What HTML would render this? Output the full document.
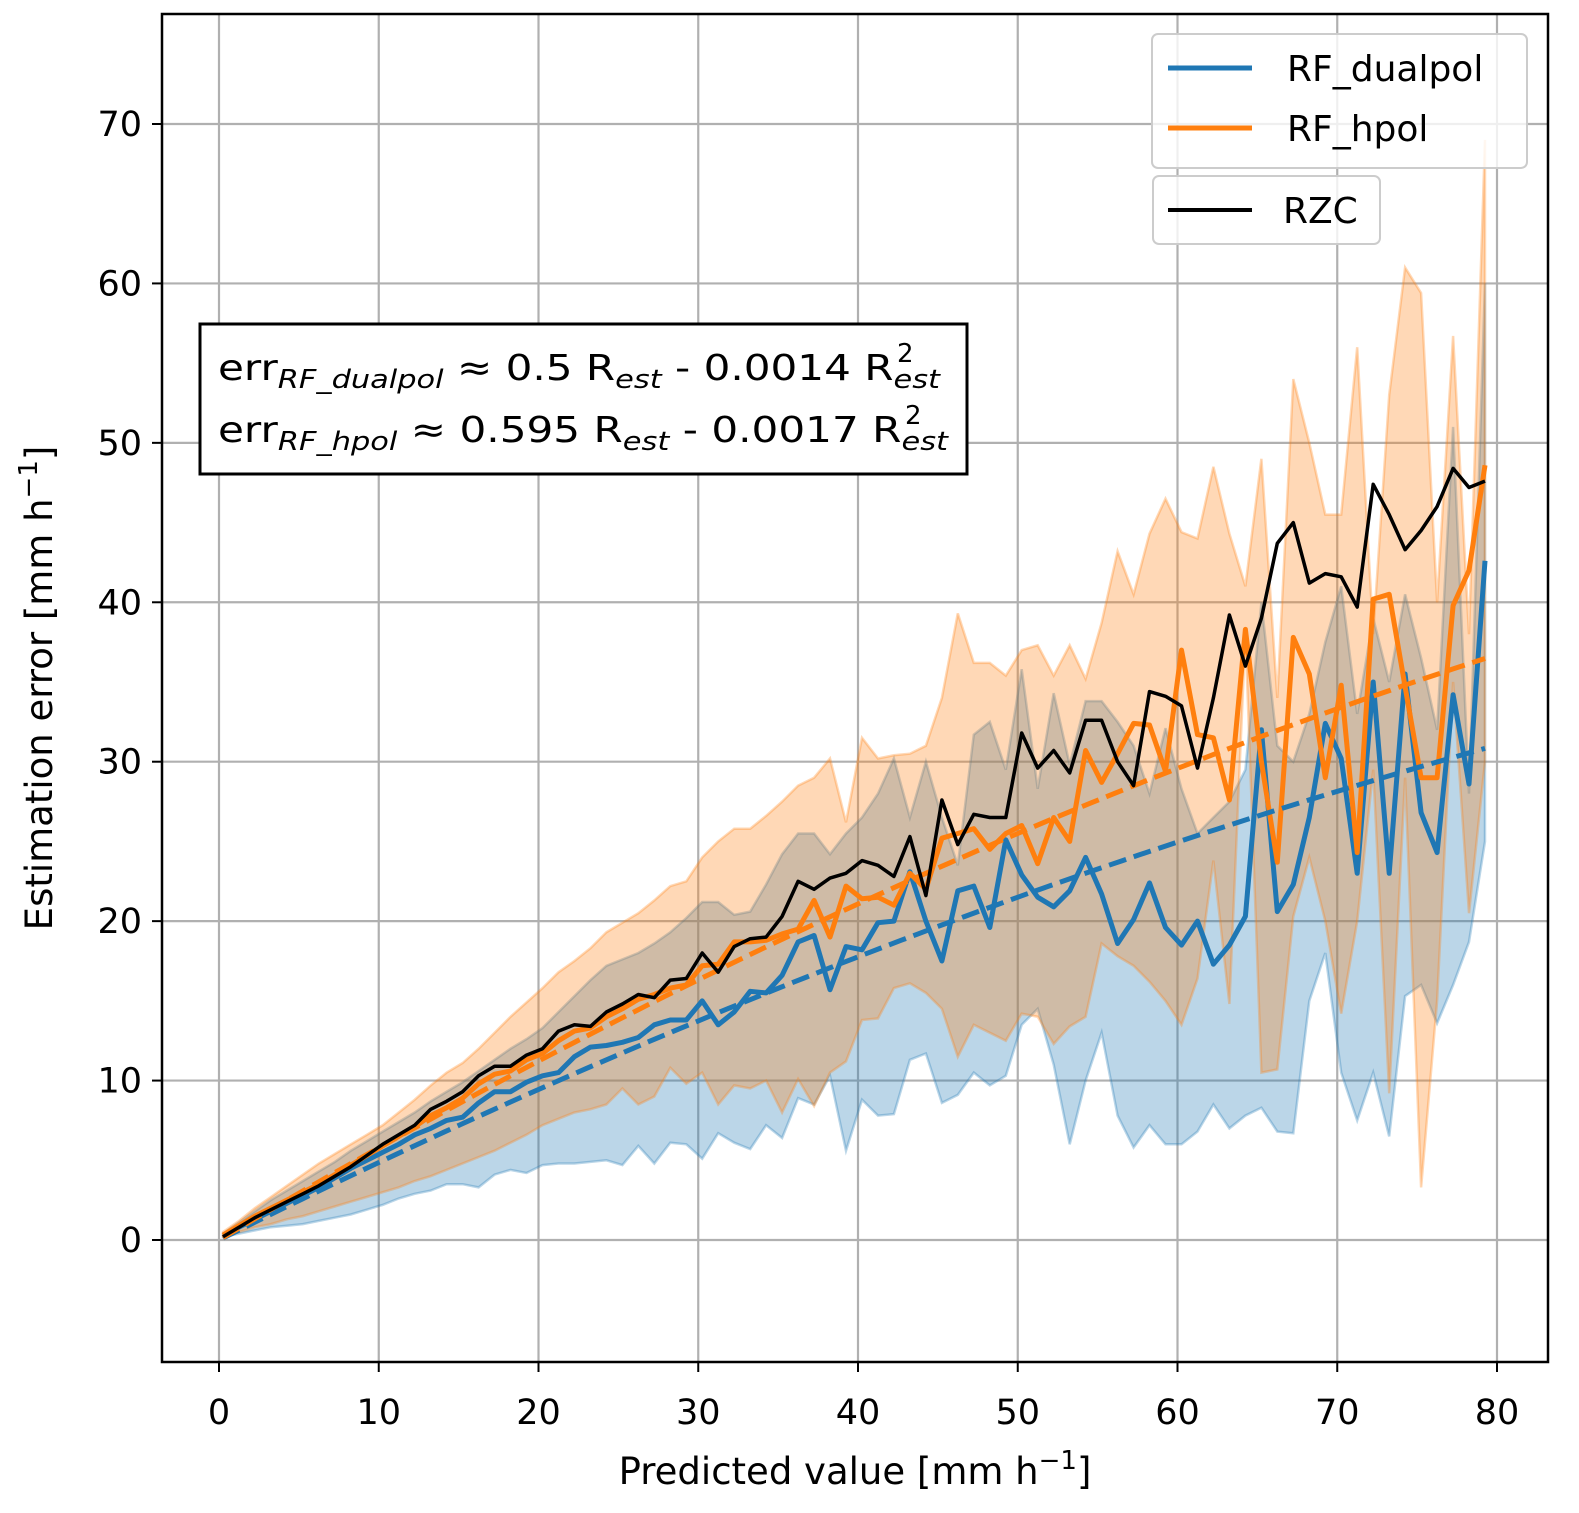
<!DOCTYPE html>
<html><head><meta charset="utf-8"><style>
body{margin:0;background:#fff}
svg{display:block;font-family:"DejaVu Sans","Liberation Sans",sans-serif}
</style></head><body>
<svg id="chart" width="1579" height="1513" viewBox="0 0 1579 1513">
<rect x="0" y="0" width="1579" height="1513" fill="#fff"/>
<g id="grid"></g>
<g id="bands"></g>
<g id="lines"></g>
<rect x="162" y="14" width="1386" height="1348" fill="none" stroke="#000" stroke-width="2.5"/>
<g id="ticks"></g>
<text x="855" y="1484" font-size="37" text-anchor="middle">Predicted value [mm h<tspan dy="-15" font-size="26">−1</tspan><tspan dy="15">]</tspan></text>
<text transform="translate(52,688) rotate(-90)" font-size="37" text-anchor="middle">Estimation error [mm h<tspan dy="-15" font-size="26">−1</tspan><tspan dy="15">]</tspan></text>
<g>
<rect x="200" y="324" width="767" height="150" fill="#fff" stroke="#000" stroke-width="3"/>
<text x="218" y="380" font-size="36" textLength="722" lengthAdjust="spacingAndGlyphs">err<tspan font-size="26" font-style="italic" dy="8">RF_dualpol</tspan><tspan dy="-8">  ≈  0.5 R</tspan><tspan font-size="26" font-style="italic" dy="8">est</tspan><tspan dy="-8"> - 0.0014 R</tspan><tspan font-size="26" font-style="italic" dy="8">est</tspan></text>
<text x="897" y="362" font-size="26">2</text>
<text x="218" y="442" font-size="36" textLength="730" lengthAdjust="spacingAndGlyphs">err<tspan font-size="26" font-style="italic" dy="8">RF_hpol</tspan><tspan dy="-8">  ≈  0.595 R</tspan><tspan font-size="26" font-style="italic" dy="8">est</tspan><tspan dy="-8"> - 0.0017 R</tspan><tspan font-size="26" font-style="italic" dy="8">est</tspan></text>
<text x="905" y="424" font-size="26">2</text>
</g>
<g>
<rect x="1152" y="34" width="375" height="134" rx="6" fill="#fff" fill-opacity="0.8" stroke="#ccc" stroke-width="2"/>
<line x1="1168" y1="68" x2="1252" y2="68" stroke="#1f77b4" stroke-width="5"/>
<text x="1287" y="81" font-size="36">RF_dualpol</text>
<line x1="1168" y1="128" x2="1252" y2="128" stroke="#ff7f0e" stroke-width="5"/>
<text x="1287" y="141" font-size="36">RF_hpol</text>
</g>
<g>
<rect x="1153" y="176" width="227" height="68" rx="6" fill="#fff" fill-opacity="0.8" stroke="#ccc" stroke-width="2"/>
<line x1="1168" y1="210" x2="1252" y2="210" stroke="#000" stroke-width="4"/>
<text x="1283" y="223" font-size="36">RZC</text>
</g>
</svg>
<script>
const xTicks=[0,10,20,30,40,50,60,70,80];
const yTicks=[0,10,20,30,40,50,60,70];
const rzc=[0.2,0.8,1.4,1.9,2.4,2.9,3.4,4.0,4.6,5.3,6.0,6.6,7.2,8.2,8.7,9.3,10.3,10.9,10.9,11.6,12.0,13.1,13.5,13.4,14.3,14.8,15.4,15.2,16.3,16.4,18.0,16.8,18.4,18.9,19.0,20.3,22.5,22.0,22.7,23.0,23.8,23.5,22.8,25.3,21.6,27.6,24.8,26.7,26.5,26.5,31.8,29.6,30.7,29.3,32.6,32.6,30.0,28.5,34.4,34.1,33.5,29.6,34.0,39.2,36.0,39.0,43.7,45.0,41.2,41.8,41.6,39.7,47.4,45.5,43.3,44.5,46.0,48.4,47.2,47.6];
const hpolMean=[0.3,0.9,1.5,2.0,2.5,3.0,3.5,4.1,4.7,5.3,5.9,6.5,7.1,7.8,8.3,8.9,9.8,10.4,10.6,11.3,11.7,12.5,13.1,13.3,14.0,14.5,15.1,15.4,15.8,16.0,17.2,17.3,18.7,18.7,18.8,19.2,19.5,21.3,19.0,22.2,21.4,21.5,21.0,23.0,22.0,25.2,25.5,25.8,24.5,25.5,26.0,23.6,26.5,25.0,30.7,28.7,30.5,32.4,32.3,29.4,37.0,31.7,31.5,27.6,38.3,30.0,23.7,37.8,35.5,29.0,34.8,24.3,40.2,40.5,34.7,29.0,29.0,39.8,42.0,48.6];
const dualMean=[0.3,0.8,1.3,1.8,2.3,2.8,3.3,3.9,4.5,5.0,5.5,6.0,6.6,7.0,7.5,7.7,8.6,9.3,9.3,9.9,10.3,10.5,11.5,12.1,12.2,12.4,12.7,13.5,13.8,13.8,15.0,13.5,14.3,15.6,15.5,16.6,18.7,19.1,15.7,18.4,18.2,19.9,20.0,23.1,20.0,17.5,21.9,22.2,19.6,25.1,22.9,21.5,20.9,21.9,24.0,21.7,18.6,20.1,22.4,19.6,18.5,20.0,17.3,18.5,20.3,32.0,20.6,22.3,26.5,32.4,30.2,23.0,35.0,23.0,35.5,26.8,24.3,34.2,28.6,42.6];
const dualUpper=[0.4,1.1,1.8,2.5,3.1,3.7,4.3,4.9,5.6,6.2,6.8,7.4,8.0,8.7,9.3,9.9,10.6,11.3,12.0,12.6,13.3,14.3,15.3,16.3,17.2,17.6,18.0,18.6,19.3,20.2,21.2,21.2,20.4,20.6,22.3,24.2,25.5,25.5,24.2,25.5,26.5,28.0,30.2,26.5,30.0,26.5,23.5,31.7,32.5,29.5,35.8,28.3,34.3,29.8,33.8,33.8,32.5,31.0,28.0,32.1,28.3,25.5,26.5,27.5,29.5,40.0,31.0,30.0,33.0,37.5,41.0,33.0,39.0,35.0,40.5,36.5,32.0,51.0,28.0,60.0];
const dualLower=[0.2,0.4,0.6,0.8,0.9,1.0,1.2,1.4,1.6,1.9,2.2,2.6,2.9,3.1,3.5,3.5,3.3,4.1,4.4,4.2,4.7,4.8,4.8,4.9,5.0,4.7,5.9,4.8,6.1,6.0,5.1,6.7,6.1,5.7,7.2,6.4,8.9,8.5,10.3,5.6,8.8,7.8,7.9,11.3,11.7,8.6,9.1,10.5,9.7,10.3,13.5,14.5,11.0,6.0,10.0,13.0,7.8,5.8,7.2,6.0,6.0,6.8,8.5,7.0,7.8,8.3,6.8,6.7,15.0,18.0,10.5,7.5,10.5,6.5,15.3,16.0,13.6,16.0,18.7,25.0];
const hpolUpper=[0.5,1.2,2.0,2.7,3.4,4.1,4.8,5.4,6.0,6.6,7.2,8.0,8.8,9.7,10.5,11.1,12.0,13.0,14.0,14.9,15.8,16.8,17.5,18.3,19.3,19.9,20.5,21.3,22.2,22.5,24.0,25.0,25.8,25.8,26.6,27.5,28.5,29.0,30.2,26.2,31.5,30.2,30.4,30.5,31.0,34.0,39.3,36.2,36.2,35.4,37.0,37.3,35.4,37.3,35.2,38.7,43.2,40.5,44.3,46.5,44.4,44.0,48.5,44.3,41.0,49.0,34.0,54.0,50.0,45.5,45.5,56.0,38.0,53.0,61.0,59.4,40.0,56.7,38.0,69.0];
const hpolLower=[0.2,0.5,0.8,1.0,1.3,1.5,1.8,2.1,2.4,2.7,3.0,3.3,3.7,4.0,4.4,4.8,5.2,5.6,6.1,6.6,7.2,7.6,8.0,8.2,8.5,9.5,8.5,9.0,10.8,9.8,10.5,8.5,9.7,9.5,10.0,8.0,10.1,8.4,10.5,11.2,13.8,13.9,15.8,16.1,15.5,14.5,11.5,13.5,13.0,12.5,14.2,14.0,12.3,13.4,14.0,18.6,17.8,17.2,16.2,15.0,13.5,16.4,23.8,14.8,38.0,10.5,10.7,20.3,24.0,20.0,14.2,20.0,29.5,9.2,29.0,3.3,15.0,35.0,20.5,30.0];
const fitDual=[0.5,-0.0014];
const fitHpol=[0.595,-0.0017];

const NS='http://www.w3.org/2000/svg';
const X=v=>219+(v)*15.975;
const Y=v=>1240-(v)*15.943;
const xs=rzc.map((_,i)=>i+0.25);
function mk(tag,attrs,parent){const e=document.createElementNS(NS,tag);for(const k in attrs)e.setAttribute(k,attrs[k]);document.getElementById(parent).appendChild(e);return e;}
xTicks.forEach(t=>{
  const g=mk('line',{x1:X(t),x2:X(t),y1:14,y2:1362,stroke:'#b0b0b0','stroke-width':2.2},'grid');
  
  
  const tk=mk('line',{x1:X(t),x2:X(t),y1:1362,y2:1372,stroke:'#000','stroke-width':2},'ticks');
  
  
  const l=mk('text',{x:X(t),y:1424,'font-size':35,'text-anchor':'middle'},'ticks');
  l.textContent=t;
  
  
});
yTicks.forEach(t=>{
  const g=mk('line',{x1:162,x2:1548,y1:Y(t),y2:Y(t),stroke:'#b0b0b0','stroke-width':2.2},'grid');
  
  
  const tk=mk('line',{x1:152,x2:162,y1:Y(t),y2:Y(t),stroke:'#000','stroke-width':2},'ticks');
  
  
  const l=mk('text',{x:142,y:Y(t)+12,'font-size':35,'text-anchor':'end'},'ticks');
  l.textContent=t;
  
  
});
function band(up,lo,color,name){
  let d='M'+xs.map((x,i)=>X(x).toFixed(1)+','+Y(up[i]).toFixed(1)).join('L');
  d+='L'+xs.slice().reverse().map((x,j)=>{const i=xs.length-1-j;return X(x).toFixed(1)+','+Y(lo[i]).toFixed(1);}).join('L')+'Z';
  const p=mk('path',{d:d,fill:color,'fill-opacity':0.3,stroke:color,'stroke-opacity':0.3,'stroke-width':2.5},'bands');
  
  
}
band(dualUpper,dualLower,'#1f77b4','band-dualpol');
band(hpolUpper,hpolLower,'#ff7f0e','band-hpol');
function line(vals,color,w,name){
  const p=mk('polyline',{points:xs.map((x,i)=>X(x).toFixed(1)+','+Y(vals[i]).toFixed(1)).join(' '),fill:'none',stroke:color,'stroke-width':w,'stroke-linejoin':'round'},'lines');
  
  
}
function fit(c,color,name){
  const pts=[];for(let i=0;i<=80;i++){const x=0.25+i*79/80;pts.push(X(x).toFixed(1)+','+Y(c[0]*x+c[1]*x*x).toFixed(1));}
  const p=mk('polyline',{points:pts.join(' '),fill:'none',stroke:color,'stroke-width':5,'stroke-dasharray':'18,8'},'lines');
  
  
}
line(dualMean,'#1f77b4',5,'line-rf-dualpol');
line(hpolMean,'#ff7f0e',5,'line-rf-hpol');
fit(fitDual,'#1f77b4','fit-rf-dualpol');
fit(fitHpol,'#ff7f0e','fit-rf-hpol');
line(rzc,'#000',3.5,'line-rzc');
</script>
</body></html>
